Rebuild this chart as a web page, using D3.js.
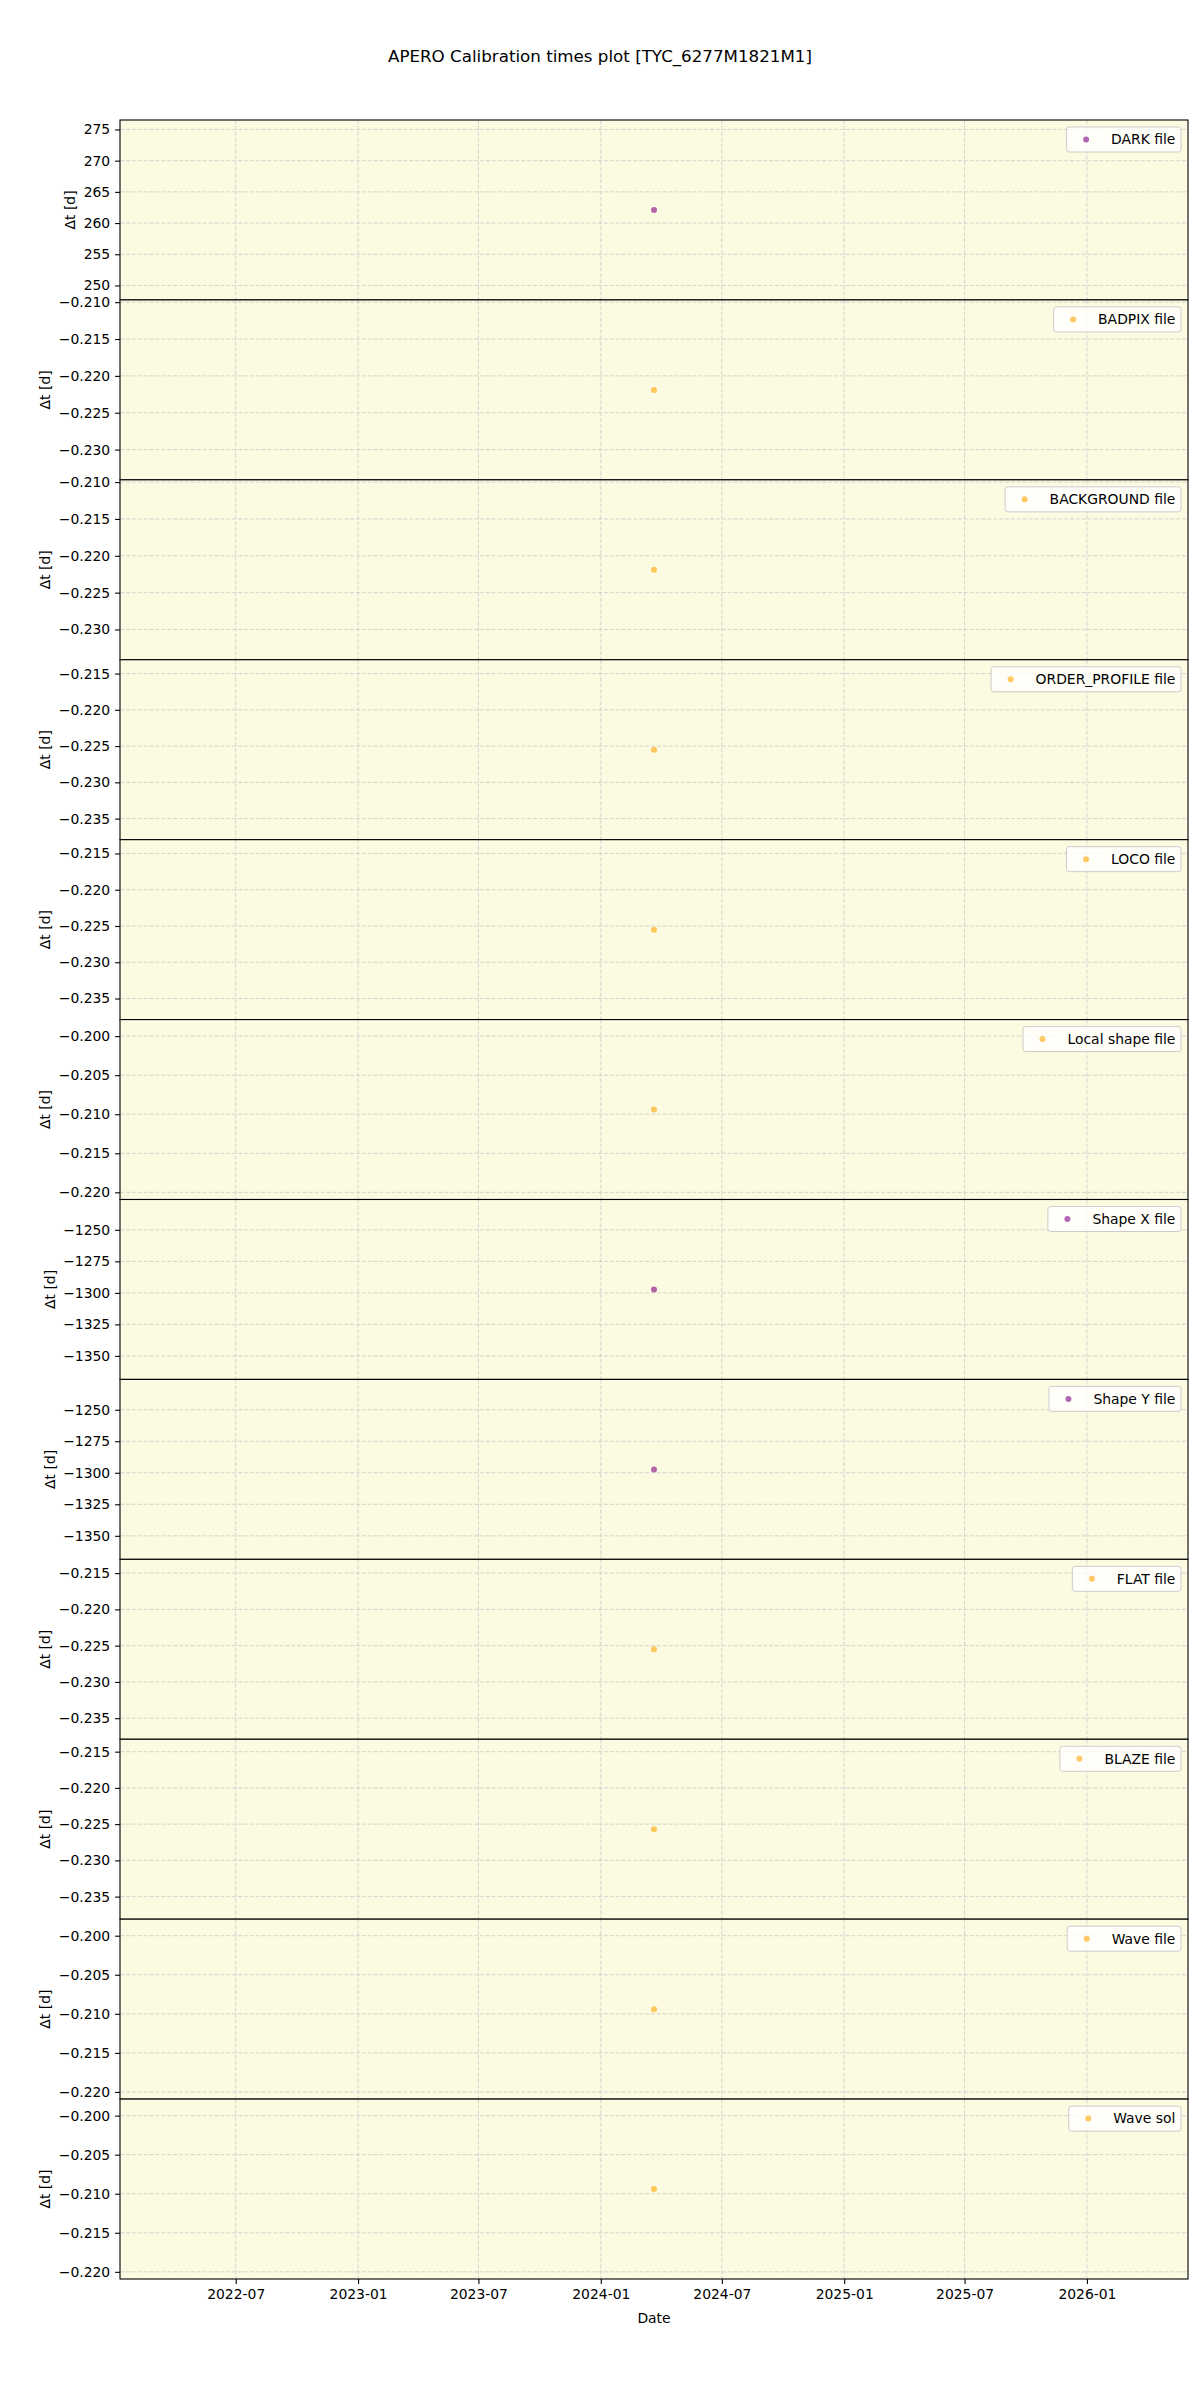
<!DOCTYPE html>
<html>
<head>
<meta charset="utf-8">
<script src="https://cdn.jsdelivr.net/npm/d3@7"></script>
<style>
  body { margin: 0; background: #fff; }
  svg { display: block; font-family: "DejaVu Sans", sans-serif; }
</style>
</head>
<body>
<svg id="chart" width="1200" height="2400"></svg>
<script>
// one calibration file per panel, each with a single point
const seriesNames = ["DARK file", "BADPIX file", "BACKGROUND file", "ORDER_PROFILE file",
    "LOCO file", "Local shape file", "Shape X file", "Shape Y file",
    "FLAT file", "BLAZE file", "Wave file", "Wave sol"];
const seriesDates = ["2024-03-21", "2024-03-21", "2024-03-21", "2024-03-21",
    "2024-03-21", "2024-03-21", "2024-03-21", "2024-03-21",
    "2024-03-21", "2024-03-21", "2024-03-21", "2024-03-21"];
const seriesValues = [262.1, -0.2219, -0.2219, -0.2255, -0.2255, -0.2094,
    -1297.3, -1297.3, -0.2255, -0.2257, -0.2094, -0.2094];
const seriesColors = ["purple", "orange", "orange", "orange", "orange", "orange",
    "purple", "purple", "orange", "orange", "orange", "orange"];

const chartWidth = 1200;
const axLeft = 120, axRight = 1188, axTop = 120, axBottom = 2279;
const panelH = (axBottom - axTop) / seriesNames.length;
const fs = 13.9;

const svg = d3.select('#chart');
const parseDate = d3.timeParse("%Y-%m-%d");
const dates = seriesDates.map(parseDate);

// x domain like matplotlib does for a single date: +-2 years then 5% margin
const xc = d3.mean(dates, d => +d);
const half = 2 * 365 * 86400000 * 1.1;
const x = d3.scaleTime()
    .domain([new Date(xc - half), new Date(xc + half)])
    .range([axLeft, axRight]);

// matplotlib-ish tick steps
const niceStep = (span, nbins) => {
    const raw = span / nbins;
    const p = Math.pow(10, Math.floor(Math.log10(raw)));
    for (const m of [1, 2, 2.5, 5, 10]) {
        if (m * p >= raw * 0.999) return m * p;
    }
    return 10 * p;
};

svg.append("text")
    .attr("x", chartWidth / 2)
    .attr("y", 62)
    .attr("text-anchor", "middle")
    .attr("font-size", 16.7)
    .text("APERO Calibration times plot [TYC_6277M1821M1]");

seriesNames.forEach((name, i) => {
    const y0 = axTop + i * panelH;
    const v = seriesValues[i];
    const ext = Math.abs(v) * 0.05 * 1.1;
    const y = d3.scaleLinear()
        .domain([v - ext, v + ext])
        .range([y0 + panelH, y0]);

    const step = niceStep(2 * ext, 6);
    const ticks = [];
    for (let k = Math.ceil((v - ext) / step); k * step <= v + ext; k++) ticks.push(k * step);
    const dec = Math.max(0, -Math.floor(Math.log10(step) + 1e-9));
    const fmt = d => d3.format(`.${dec}f`)(d).replace("-", "\u2212");

    const g = svg.append("g");

    g.append("rect")
        .attr("x", axLeft).attr("y", y0)
        .attr("width", axRight - axLeft).attr("height", panelH)
        .attr("fill", "#fcfae1");

    // grid
    g.append("g")
        .selectAll("line")
        .data(ticks)
        .join("line")
        .attr("x1", axLeft).attr("x2", axRight)
        .attr("y1", d => y(d)).attr("y2", d => y(d))
        .attr("stroke", "#cccccc")
        .attr("stroke-width", 0.8)
        .attr("stroke-dasharray", "4.1,1.8");

    g.append("g")
        .selectAll("line")
        .data(x.ticks(d3.timeMonth.every(6)))
        .join("line")
        .attr("x1", d => x(d)).attr("x2", d => x(d))
        .attr("y1", y0).attr("y2", y0 + panelH)
        .attr("stroke", "#cccccc")
        .attr("stroke-width", 0.8)
        .attr("stroke-dasharray", "4.1,1.8");

    // point
    g.append("circle")
        .attr("cx", x(dates[i]))
        .attr("cy", y(v))
        .attr("r", 3)
        .attr("fill", seriesColors[i])
        .attr("fill-opacity", 0.6);

    // y axis
    const yAxis = g.append("g")
        .attr("transform", `translate(${axLeft},0)`)
        .call(d3.axisLeft(y).tickValues(ticks).tickFormat(fmt).tickSize(4.9).tickPadding(4.9));
    yAxis.select(".domain").remove();
    yAxis.selectAll("text").attr("font-size", fs).attr("fill", "#000").attr("font-family", "DejaVu Sans");
    yAxis.selectAll("line").attr("stroke", "#000").attr("stroke-width", 1.1);

    const bb = yAxis.node().getBBox();
    g.append("text")
        .attr("transform", `translate(${axLeft + bb.x - 5.6 - 3},${y0 + panelH / 2}) rotate(-90)`)
        .attr("text-anchor", "middle")
        .attr("font-size", fs)
        .text("\u0394t [d]");

    // frame
    g.append("rect")
        .attr("x", axLeft).attr("y", y0)
        .attr("width", axRight - axLeft).attr("height", panelH)
        .attr("fill", "none")
        .attr("stroke", "#000")
        .attr("stroke-width", 1.1);

    // legend
    const lg = g.append("g");
    const box = lg.append("rect")
        .attr("fill", "#fff").attr("fill-opacity", 0.8)
        .attr("stroke", "#cccccc").attr("stroke-width", 1)
        .attr("rx", 2.8);
    const lt = lg.append("text")
        .attr("font-size", fs)
        .attr("text-anchor", "end")
        .attr("x", axRight - 7 - 5.6)
        .attr("y", y0 + 7 + 12.5 + 4.9)
        .text(name);
    const tw = lt.node().getComputedTextLength();
    const bx = axRight - 7 - 5.6 - tw - 11.1 - 27.8 - 5.6;
    box.attr("x", bx).attr("y", y0 + 7)
        .attr("width", axRight - 7 - bx).attr("height", 25);
    lg.append("circle")
        .attr("cx", bx + 5.6 + 13.9)
        .attr("cy", y0 + 7 + 12.5)
        .attr("r", 3)
        .attr("fill", seriesColors[i])
        .attr("fill-opacity", 0.6);

    // bottom x axis only on the last panel
    if (i === seriesNames.length - 1) {
        const xAxis = g.append("g")
            .attr("transform", `translate(0,${y0 + panelH})`)
            .call(d3.axisBottom(x).ticks(d3.timeMonth.every(6))
                .tickFormat(d3.timeFormat("%Y-%m")).tickSize(4.9).tickPadding(4.9));
        xAxis.select(".domain").remove();
        xAxis.selectAll("text").attr("font-size", fs).attr("fill", "#000").attr("font-family", "DejaVu Sans");
        xAxis.selectAll("line").attr("stroke", "#000").attr("stroke-width", 1.1);

        g.append("text")
            .attr("x", (axLeft + axRight) / 2)
            .attr("y", y0 + panelH + 44)
            .attr("text-anchor", "middle")
            .attr("font-size", fs)
            .text("Date");
    }
});
</script>
</body>
</html>
